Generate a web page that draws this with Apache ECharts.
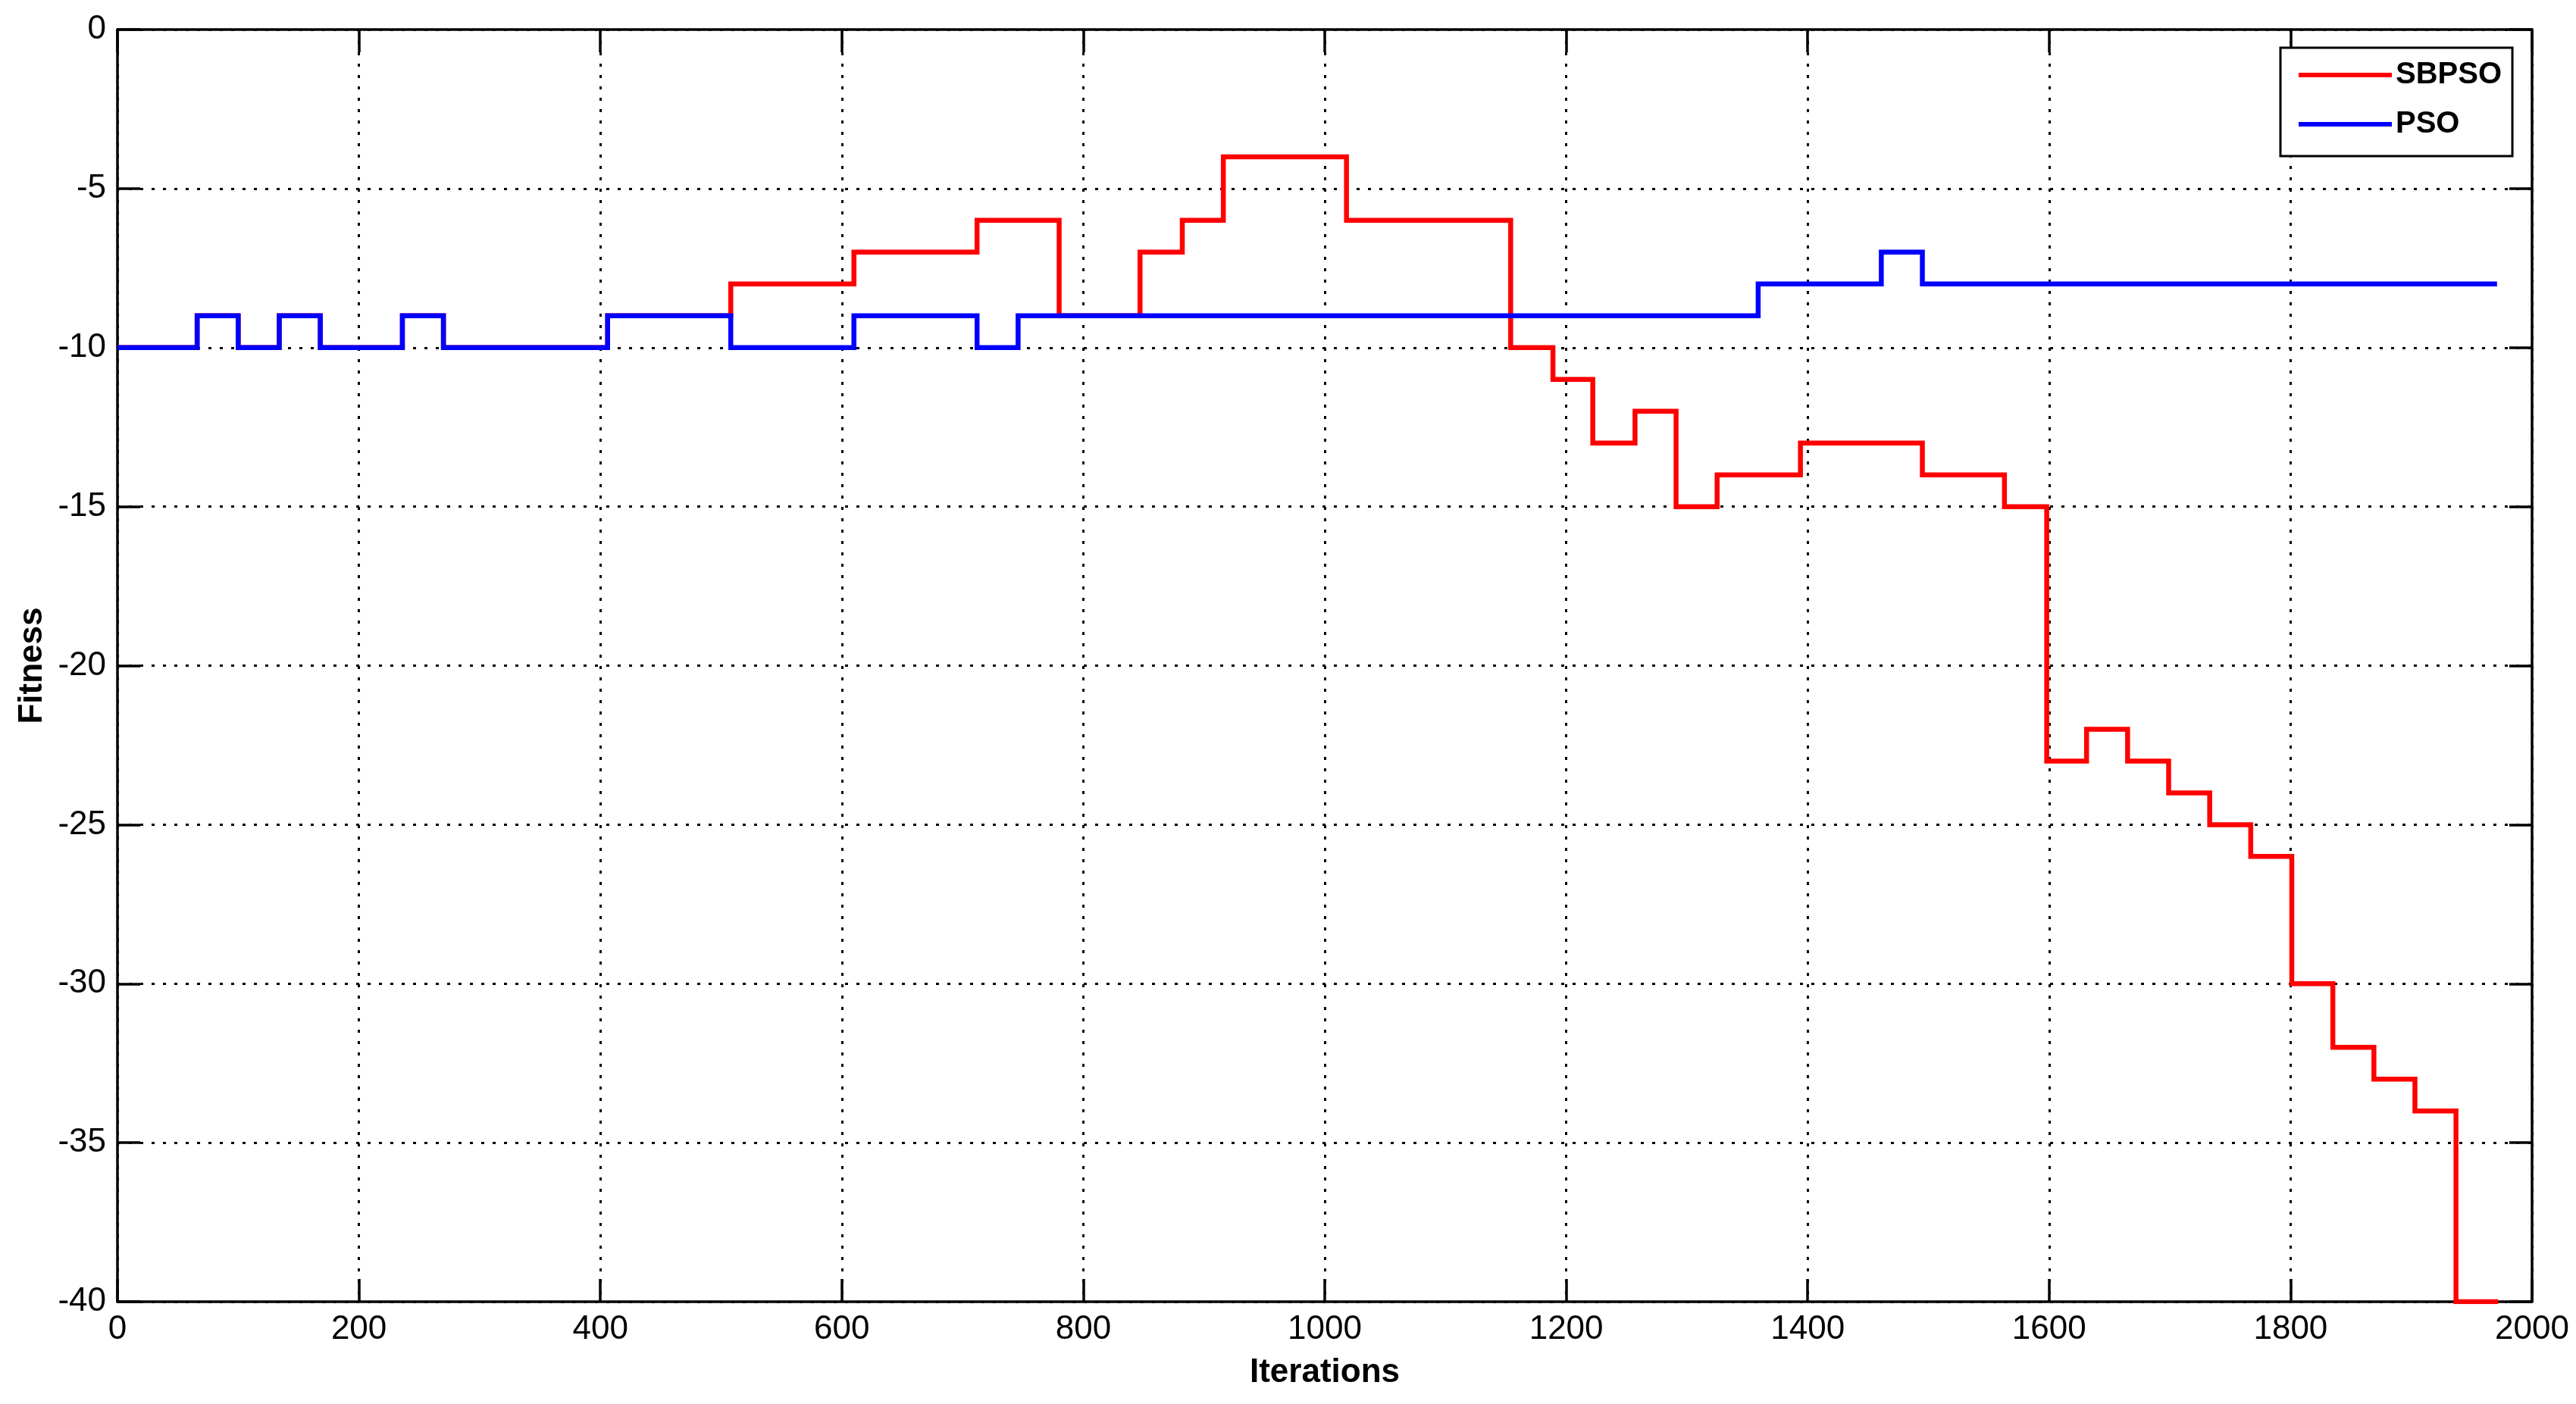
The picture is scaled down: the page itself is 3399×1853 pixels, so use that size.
<!DOCTYPE html>
<html>
<head>
<meta charset="utf-8">
<script src="https://cdn.jsdelivr.net/npm/echarts@6/dist/echarts.min.js"></script>
<style>
html,body{margin:0;padding:0;background:#fff;}
#chart{width:3399px;height:1853px;}
</style>
</head>
<body>
<div id="chart"></div>
<script>
// ---- data (step-change points) ----
const sbpsoIter    = [0, 66, 100, 134, 168, 236, 270, 406, 508, 610, 712, 780, 847, 882, 916, 1018, 1154, 1189, 1222, 1257, 1291, 1325, 1394, 1495, 1563, 1598, 1631, 1665, 1699, 1733, 1767, 1801, 1835, 1869, 1903, 1937, 1972];
const sbpsoFitness = [-10, -9, -10, -9, -10, -9, -10, -9, -8, -7, -6, -9, -7, -6, -4, -6, -10, -11, -13, -12, -15, -14, -13, -14, -15, -23, -22, -23, -24, -25, -26, -30, -32, -33, -34, -40, -40];
const psoIter      = [0, 66, 100, 134, 168, 236, 270, 406, 508, 610, 712, 746, 1359, 1461, 1495, 1971];
const psoFitness   = [-10, -9, -10, -9, -10, -9, -10, -9, -10, -9, -10, -9, -8, -7, -8, -8];
const seriesNames  = ['SBPSO', 'PSO'];
const seriesColors = ['#ff0000', '#0000ff'];
const xRange = [0, 2000], xStep = 200;
const yRange = [-40, 0], yStep = 5;

const FONT = "'Liberation Sans Narrow', 'Liberation Sans', Arial, sans-serif";
const pairs = (xs, ys) => xs.map((x, i) => [x, ys[i]]);

const chart = echarts.init(document.getElementById('chart'), null, {renderer: 'canvas'});
const dotted = {color: '#000', width: 3, type: [4, 11]};
const axisLine = {show: true, onZero: false, lineStyle: {color: '#000', width: 3.5}};
const tick = {show: true, inside: true, length: 30, lineStyle: {color: '#000', width: 3.5}};
const plain = v => String(v);

chart.setOption({
  backgroundColor: '#fff',
  animation: false,
  grid: {left: 155, right: 58, top: 39, bottom: 135, containLabel: false},
  legend: {
    data: seriesNames,
    orient: 'vertical',
    left: 3009, top: 63,
    padding: [16, 14, 22, 24],
    itemGap: 25,
    itemWidth: 123, itemHeight: 6,
    icon: 'rect',
    backgroundColor: '#fff',
    borderColor: '#000', borderWidth: 3, borderRadius: 0,
    selectedMode: false,
    textStyle: {fontFamily: FONT, fontSize: 40, fontWeight: 'bold', color: '#000'}
  },
  xAxis: [{
    type: 'value', min: xRange[0], max: xRange[1], interval: xStep,
    name: 'Iterations', nameLocation: 'middle', nameGap: 72,
    nameTextStyle: {fontFamily: FONT, fontSize: 44, fontWeight: 'bold', color: '#000'},
    axisLine: axisLine, axisTick: tick,
    axisLabel: {fontFamily: FONT, fontSize: 44, color: '#000', margin: 15, formatter: plain},
    splitLine: {show: true, lineStyle: dotted}
  }, {
    type: 'value', position: 'top', min: xRange[0], max: xRange[1], interval: xStep,
    axisLine: axisLine, axisTick: tick, axisLabel: {show: false}, splitLine: {show: false}
  }],
  yAxis: [{
    type: 'value', min: yRange[0], max: yRange[1], interval: yStep,
    name: 'Fitness', nameLocation: 'middle', nameGap: 90, nameRotate: 90,
    nameTextStyle: {fontFamily: FONT, fontSize: 44, fontWeight: 'bold', color: '#000'},
    axisLine: axisLine, axisTick: tick,
    axisLabel: {fontFamily: FONT, fontSize: 44, color: '#000', margin: 15, formatter: plain},
    splitLine: {show: true, lineStyle: dotted}
  }, {
    type: 'value', position: 'right', min: yRange[0], max: yRange[1], interval: yStep,
    axisLine: axisLine, axisTick: tick, axisLabel: {show: false}, splitLine: {show: false}
  }],
  series: [{
    name: seriesNames[0], type: 'line', step: 'end',
    data: pairs(sbpsoIter, sbpsoFitness),
    showSymbol: false, symbol: 'none',
    lineStyle: {color: seriesColors[0], width: 6.5, cap: 'butt', join: 'miter'},
    itemStyle: {color: seriesColors[0]}, z: 3
  }, {
    name: seriesNames[1], type: 'line', step: 'end',
    data: pairs(psoIter, psoFitness),
    showSymbol: false, symbol: 'none',
    lineStyle: {color: seriesColors[1], width: 6.5, cap: 'butt', join: 'miter'},
    itemStyle: {color: seriesColors[1]}, z: 4
  }]
});
</script>
</body>
</html>
